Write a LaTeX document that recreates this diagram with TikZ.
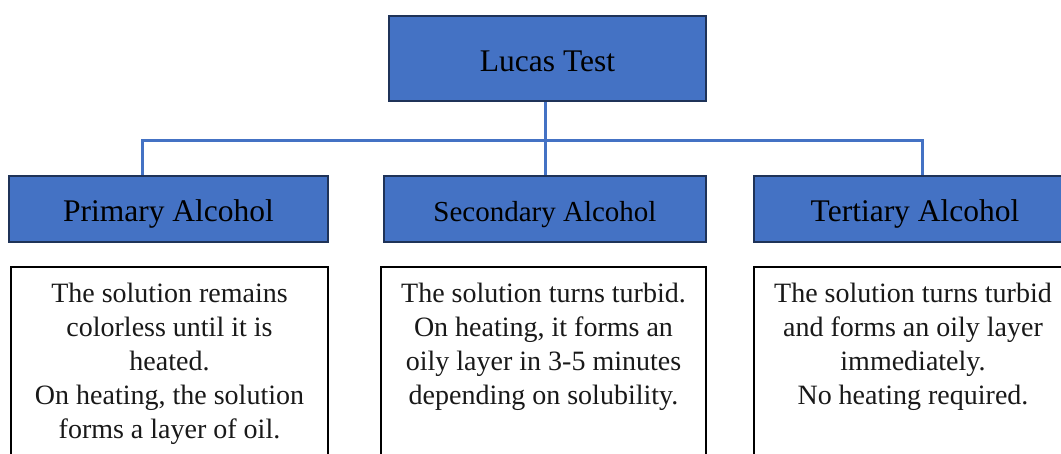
\documentclass[tikz,border=0pt]{standalone}
\usepackage{fontspec}
\setmainfont{Liberation Serif}
\definecolor{boxblue}{HTML}{4472C4}
\definecolor{boxedge}{HTML}{1F3358}
\begin{document}
\begin{tikzpicture}[x=1pt,y=-1pt,
  titlebox/.style={draw=boxedge, line width=2pt, fill=boxblue, inner sep=0pt, text=black, text height=30pt, text depth=5pt, font=\fontsize{31.5}{37}\selectfont},
  txtbox/.style={draw=black, line width=1.6pt, fill=white, inner sep=0pt, anchor=north},
  body/.style={align=center, anchor=north, inner sep=0pt, text=black!90, font=\fontsize{28}{34}\selectfont},
  link/.style={draw=boxblue, line width=3pt}]
\useasboundingbox (0,0) rectangle (1061,453);
\clip (0,0) rectangle (1061,453);
% title boxes
\node[titlebox, minimum width=317pt, minimum height=85pt] (lucas) at (547.5,58.5) {Lucas Test};
\node[titlebox, minimum width=319pt, minimum height=66pt] (prim) at (168.5,209) {Primary Alcohol};
\node[titlebox, minimum width=322pt, minimum height=66pt, font=\fontsize{29}{35}\selectfont] (sec) at (545,209) {Secondary Alcohol};
\node[titlebox, minimum width=322pt, minimum height=66pt] (tert) at (915,209) {Tertiary Alcohol};
% description boxes
\node[txtbox, minimum width=317pt, minimum height=230pt] (pbox) at (169.5,266) {};
\node[txtbox, minimum width=325pt, minimum height=230pt] (sbox) at (543.5,266) {};
\node[txtbox, minimum width=318pt, minimum height=230pt] (tbox) at (913,266) {};
\node[body] (ptext) at ([yshift=-17pt]pbox.north) {The solution remains\\colorless until it is\\heated.\\On heating, the solution\\forms a layer of oil.};
\node[body] (stext) at ([yshift=-17pt]sbox.north) {The solution turns turbid.\\On heating, it forms an\\oily layer in 3-5 minutes\\depending on solubility.};
\node[body] (ttext) at ([yshift=-17pt]tbox.north) {The solution turns turbid\\and forms an oily layer\\immediately.\\No heating required.};
% connectors
\coordinate (jl) at (142,140);
\coordinate (jr) at (922,140);
\draw[link] (lucas.south -| sec.north) -- (sec.north);
\draw[link] (prim.north -| jl) -- (jl) -- (jr) -- (tert.north -| jr);
\end{tikzpicture}
\end{document}
